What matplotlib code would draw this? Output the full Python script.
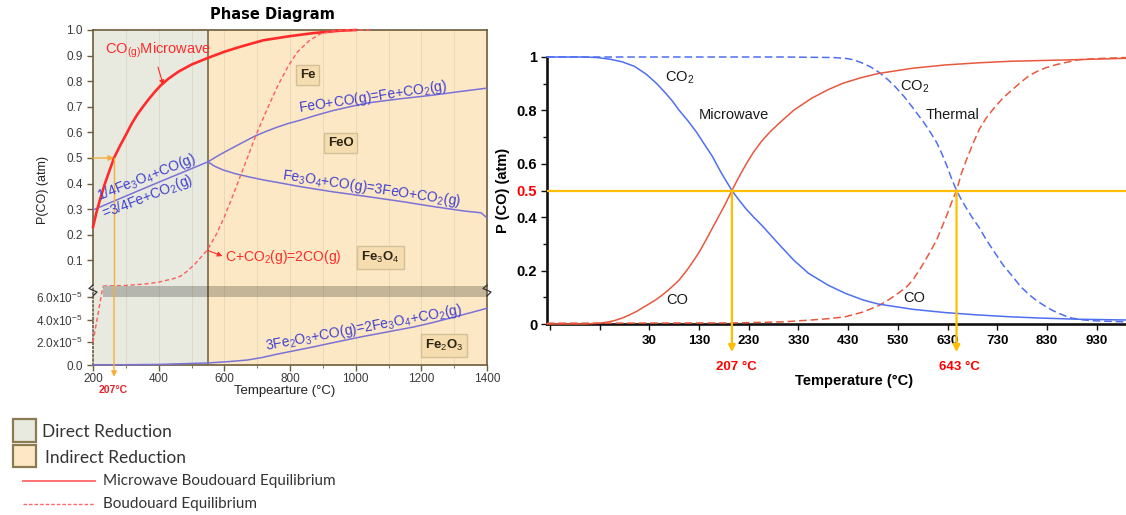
import numpy as np
import matplotlib.pyplot as plt
from matplotlib.patches import Rectangle

plt.rcParams['font.family'] = ['Liberation Sans', 'DejaVu Sans']
plt.rcParams['mathtext.fontset'] = 'custom'
plt.rcParams['mathtext.rm'] = 'Liberation Sans'
plt.rcParams['mathtext.it'] = 'Liberation Sans:italic'
plt.rcParams['mathtext.bf'] = 'Liberation Sans:bold'

# ── Data: left phase diagram (T in °C, P(CO) in atm) ──────────────────
temp_mw = [200, 210, 221, 235, 250, 264, 282, 300, 317, 334, 352, 370, 388, 405, 430, 460,
           500, 548, 600, 650, 719, 800, 872, 950, 1000]
p_mw = [0.23, 0.285, 0.336, 0.395, 0.45, 0.50, 0.547, 0.59, 0.632, 0.668, 0.70, 0.73, 0.758,
        0.782, 0.81, 0.837, 0.865, 0.89, 0.915, 0.935, 0.96, 0.976, 0.988, 0.997, 1.0]

temp_bd_low = [200, 230]
p_bd_low = [2.0e-5, 6.9e-5]
temp_bd = [230, 300, 360, 400, 426, 446, 466, 487, 510, 527, 548, 575, 600, 625, 643, 670,
           695, 730, 762, 795, 823, 860, 893, 930, 975, 1050]
p_bd = [0.0, 0.002, 0.008, 0.015, 0.023, 0.029, 0.038, 0.058, 0.085, 0.11, 0.14, 0.2, 0.27,
        0.35, 0.41, 0.50, 0.585, 0.69, 0.78, 0.86, 0.915, 0.96, 0.985, 0.996, 1.0, 1.0]

temp_fe3o4_fe = [200, 375, 550]
p_fe3o4_fe = [0.297, 0.392, 0.485]
temp_feo_fe = [550, 585, 618, 655, 689, 725, 760, 795, 832, 880, 930, 985, 1037, 1090, 1140,
               1190, 1238, 1320, 1400]
p_feo_fe = [0.485, 0.512, 0.535, 0.56, 0.583, 0.603, 0.62, 0.635, 0.648, 0.667, 0.685, 0.701,
            0.715, 0.724, 0.732, 0.739, 0.746, 0.76, 0.773]
temp_fe3o4_feo = [550, 570, 597, 635, 679, 720, 760, 832, 930, 1037, 1140, 1238, 1330, 1382, 1400]
p_fe3o4_feo = [0.485, 0.468, 0.453, 0.438, 0.425, 0.414, 0.405, 0.388, 0.368, 0.349, 0.33,
               0.31, 0.293, 0.286, 0.266]
temp_fe2o3 = [200, 400, 550, 610, 670, 715, 760, 815, 872, 920, 970, 1020, 1076, 1125, 1177,
              1235, 1290, 1345, 1400]
p_fe2o3 = [0.0, 0.05e-5, 0.18e-5, 0.29e-5, 0.44e-5, 0.66e-5, 0.95e-5, 1.27e-5, 1.6e-5, 1.9e-5,
           2.2e-5, 2.5e-5, 2.8e-5, 3.07e-5, 3.35e-5, 3.74e-5, 4.15e-5, 4.57e-5, 5.0e-5]

direct_span = [200, 550]
indirect_span = [550, 1400]
band_span = [230, 1400]
band_p = [6.0e-5, 6.96e-5]
left_half_temp = 264
left_yticks_up = [0.1, 0.2, 0.3, 0.4, 0.5, 0.6, 0.7, 0.8, 0.9, 1.0]
left_yticks_lo = [0, 2e-5, 4e-5, 6e-5]
left_yticklabels_lo = ['0.0', r'2.0x10$^{-5}$', r'4.0x10$^{-5}$', r'6.0x10$^{-5}$']

# ── Data: right panel (microwave vs thermal) ─────────────────────────
temp_mw_co2 = [-176, -100, -76, -50, -25, 0, 24, 45, 60, 75, 90, 108, 125, 140, 156, 175, 196,
               210, 225, 240, 256, 273, 290, 320, 350, 390, 424, 460, 490, 560, 624, 690, 756,
               820, 890, 989]
mw_co2 = [1.0, 1.0, 0.998, 0.992, 0.982, 0.965, 0.935, 0.9, 0.87, 0.838, 0.80, 0.76, 0.718,
          0.675, 0.63, 0.565, 0.50, 0.465, 0.43, 0.40, 0.37, 0.335, 0.30, 0.24, 0.19, 0.145,
          0.115, 0.09, 0.075, 0.055, 0.043, 0.034, 0.027, 0.022, 0.018, 0.015]
temp_mw_co = [-176, -100, -70, -55, -40, -25, -10, 5, 20, 32, 44, 57, 70, 80, 90, 105, 120,
              132, 144, 157, 170, 183, 196, 210, 225, 240, 256, 273, 290, 320, 356, 390, 420,
              455, 490, 560, 624, 690, 756, 890, 989]
mw_co = [0.0, 0.0, 0.003, 0.007, 0.013, 0.022, 0.034, 0.048, 0.065, 0.078, 0.092, 0.11, 0.13,
         0.147, 0.165, 0.2, 0.24, 0.275, 0.315, 0.36, 0.405, 0.45, 0.5, 0.55, 0.60, 0.645,
         0.685, 0.72, 0.75, 0.80, 0.845, 0.878, 0.902, 0.922, 0.938, 0.958, 0.97, 0.978,
         0.984, 0.99, 0.995]
temp_th_co2 = [-176, 300, 400, 424, 440, 455, 475, 494, 510, 524, 542, 560, 572, 584, 596, 608,
               618, 629, 638, 648, 658, 669, 681, 694, 708, 724, 742, 760, 777, 794, 811, 828,
               841, 854, 867, 880, 900, 924, 955, 989]
th_co2 = [1.0, 1.0, 0.998, 0.995, 0.99, 0.98, 0.963, 0.94, 0.915, 0.89, 0.853, 0.81, 0.78,
          0.75, 0.716, 0.68, 0.64, 0.59, 0.545, 0.50, 0.465, 0.43, 0.395, 0.36, 0.315, 0.27,
          0.22, 0.18, 0.14, 0.11, 0.085, 0.065, 0.051, 0.04, 0.03, 0.022, 0.016, 0.012, 0.01,
          0.008]
temp_th_co = [-176, 200, 300, 356, 390, 424, 460, 494, 515, 534, 548, 560, 572, 584, 596, 608,
              618, 629, 638, 648, 658, 669, 681, 694, 708, 724, 742, 760, 777, 794, 811, 828,
              846, 864, 894, 944, 989]
th_co = [0.003, 0.004, 0.008, 0.015, 0.02, 0.027, 0.045, 0.071, 0.095, 0.12, 0.14, 0.165,
         0.198, 0.235, 0.274, 0.315, 0.36, 0.41, 0.455, 0.5, 0.565, 0.62, 0.675, 0.73, 0.772,
         0.81, 0.848, 0.877, 0.905, 0.93, 0.947, 0.96, 0.97, 0.978, 0.99, 0.995, 0.998]
mw_half_temp = 196
th_half_temp = 648
half_p = 0.5
right_xticks = list(range(-170, 931, 100))
right_yticks = [0, 0.2, 0.4, 0.5, 0.6, 0.8, 1.0]
right_yticklabels = ['0', '0.2', '0.4', '0.5', '0.6', '0.8', '1']

# ── Colours ───────────────────────────────────────────────────────────
C_DIRECT = '#e8eadf'
C_INDIRECT = '#fce8c4'
C_FRAME = '#6e5c3a'
C_RED = '#ff2b2b'
C_RED_D = '#ff5c5c'
C_PURPLE = '#7a72d8'
C_BLUE_TXT = '#4040d0'
C_ORANGE_L = '#f6ad3c'
C_ORANGE = '#ffbf00'
C_BLUE_R = '#4f6ff0'
C_RED_R = '#e8583f'

W, H = 1126, 515
fig = plt.figure(figsize=(W / 100, H / 100), dpi=100)


def px_axes(l, t, r, b, **kw):
    return fig.add_axes([l / W, 1 - b / H, (r - l) / W, (b - t) / H], **kw)


ax_up = px_axes(93, 30, 487, 286)
ax_lo = px_axes(93, 286, 487, 365)
ax_r = px_axes(547, 57, 1126, 324)

# ── Left panel: backgrounds, grid, band ───────────────────────────────
for ax in (ax_up, ax_lo):
    ax.set_xlim(200, 1400)
    ax.axvspan(*direct_span, color=C_DIRECT, zorder=0, lw=0)
    ax.axvspan(*indirect_span, color=C_INDIRECT, zorder=0, lw=0)
    for t in range(300, 1400, 100):
        ax.axvline(t, color='#d6ccb2', lw=0.6, alpha=0.6, zorder=1)
    ax.axvline(direct_span[1], color=C_FRAME, lw=1.1, zorder=2)
    for s in ax.spines.values():
        s.set_color(C_FRAME)
        s.set_linewidth(1.2)
    ax.tick_params(colors=C_FRAME, labelcolor='#3a3a3a', labelsize=8.5, length=4, width=1)

ax_up.set_ylim(0, 1.0)
ax_up.spines['bottom'].set_visible(False)
ax_up.set_xticks([])
ax_up.set_yticks(left_yticks_up)
ax_up.set_yticklabels([f'{v:.1f}' for v in left_yticks_up])

ax_lo.set_ylim(0, band_p[1])
ax_lo.spines['top'].set_visible(False)
ax_lo.spines['left'].set_linestyle((0, (1, 1.5)))
ax_lo.set_yticks(left_yticks_lo)
ax_lo.set_yticklabels(left_yticklabels_lo)
ax_lo.set_xticks(range(200, 1401, 200))
ax_lo.set_xticks(range(300, 1400, 200), minor=True)
ax_lo.tick_params(axis='x', which='major', pad=1.5)
ax_lo.tick_params(axis='x', which='minor', length=2.5, colors=C_FRAME)
ax_lo.fill_between(band_span, band_p[0], band_p[1], color='k', alpha=0.22, lw=0, zorder=2)

# ── Left panel: curves ────────────────────────────────────────────────
ax_up.plot(temp_mw, p_mw, color=C_RED, lw=1.9, zorder=4, clip_on=False)
ax_up.plot(temp_bd, p_bd, color=C_RED_D, lw=1.0, ls=(0, (3, 2)), zorder=4, clip_on=False)
ax_lo.plot(temp_bd_low, p_bd_low, color=C_RED_D, lw=1.0, ls=(0, (3, 2)), zorder=4, clip_on=False)
for tt, pp in [(temp_fe3o4_fe, p_fe3o4_fe), (temp_feo_fe, p_feo_fe), (temp_fe3o4_feo, p_fe3o4_feo)]:
    ax_up.plot(tt, pp, color=C_PURPLE, lw=1.1, zorder=3)
ax_lo.plot(temp_fe2o3, p_fe2o3, color=C_PURPLE, lw=1.1, zorder=3, clip_on=False)

# orange guide at P(CO)=0.5 for the microwave curve
ax_up.annotate('', xy=(left_half_temp, 0.5), xytext=(200, 0.5),
               arrowprops=dict(arrowstyle='-|>', color=C_ORANGE_L, lw=1.0,
                               mutation_scale=8, shrinkA=0, shrinkB=0))
ax_up.plot([left_half_temp, left_half_temp], [0.5, 0], color=C_ORANGE_L, lw=1.0,
           zorder=5, clip_on=False)
ax_lo.annotate('', xy=(left_half_temp, -0.15), xytext=(left_half_temp, 1.0),
               xycoords=('data', 'axes fraction'), textcoords=('data', 'axes fraction'),
               arrowprops=dict(arrowstyle='-|>', color=C_ORANGE_L, lw=1.0,
                               mutation_scale=8, shrinkA=0, shrinkB=0),
               annotation_clip=False, zorder=5)
ax_lo.text(261, -0.32, '207°C', transform=ax_lo.get_xaxis_transform(), ha='center',
           va='center', color='#e8202a', fontsize=7.5, fontweight='bold')

# ── Left panel: annotations ───────────────────────────────────────────
ax_up.text(237, 0.922, r'CO$_{\mathrm{(g)}}$Microwave', color=C_RED, fontsize=10.5,
           ha='left', va='center')
ax_up.annotate('', xy=(414, 0.785), xytext=(398, 0.855),
               arrowprops=dict(arrowstyle='-|>', color=C_RED, lw=0.8,
                               mutation_scale=7, shrinkA=0, shrinkB=0))

eq_kw = dict(color=C_BLUE_TXT, fontsize=10, ha='center', va='center',
             rotation_mode='anchor', zorder=6)
ax_up.text(362, 0.424, r'1/4Fe$_3$O$_4$+CO(g)', rotation=21.5, **eq_kw)
ax_up.text(365, 0.348, r'=3/4Fe+CO$_2$(g)', rotation=21.5, **eq_kw)
ax_up.text(1052, 0.738, r'FeO+CO(g)=Fe+CO$_2$(g)', rotation=8.5, **eq_kw)
ax_up.text(1049, 0.383, r'Fe$_3$O$_4$+CO(g)=3FeO+CO$_2$(g)', rotation=-8.5, **eq_kw)
ax_lo.text(1024, 3.26e-5, r'3Fe$_2$O$_3$+CO(g)=2Fe$_3$O$_4$+CO$_2$(g)', rotation=10.5, **eq_kw)

ax_up.text(603, 0.113, r'C+CO$_2$(g)=2CO(g)', color=C_RED, fontsize=10,
           ha='left', va='center')
ax_up.annotate('', xy=(594, 0.117), xytext=(548, 0.14),
               arrowprops=dict(arrowstyle='-|>', color=C_RED, lw=0.8,
                               mutation_scale=7, shrinkA=0, shrinkB=0))

box_kw = dict(fontsize=9.5, fontweight='bold', color='#2b2415', ha='center', va='center',
              bbox=dict(boxstyle='square,pad=0.3', fc='#f6ddb0', ec='#d2c096', lw=1))
ax_up.text(853, 0.824, 'Fe', **box_kw)
ax_up.text(954, 0.557, 'FeO', **box_kw)
ax_up.text(1076, 0.113, r'Fe$_3$O$_4$', **box_kw)
ax_lo.text(1269, 1.76e-5, r'Fe$_2$O$_3$', **box_kw)

# ── Right panel ───────────────────────────────────────────────────────
ax_r.set_xlim(-176, 989)
ax_r.set_ylim(0, 1)
for side in ('top', 'right'):
    ax_r.spines[side].set_visible(False)
for side in ('left', 'bottom'):
    ax_r.spines[side].set_linewidth(1.9)
    ax_r.spines[side].set_color('#111111')

ax_r.plot(temp_mw_co2, mw_co2, color=C_BLUE_R, lw=1.1, clip_on=False, zorder=4)
ax_r.plot(temp_mw_co, mw_co, color=C_RED_R, lw=1.1, clip_on=False, zorder=4)
ax_r.plot(temp_th_co2, th_co2, color=C_BLUE_R, lw=1.1, ls=(0, (5, 2.5)), clip_on=False, zorder=3)
ax_r.plot(temp_th_co, th_co, color=C_RED_R, lw=1.1, ls=(0, (5, 2.5)), clip_on=False, zorder=3)

ax_r.axhline(half_p, color=C_ORANGE, lw=1.6, zorder=5)
for t in (mw_half_temp, th_half_temp):
    ax_r.annotate('', xy=(t, -0.105), xytext=(t, half_p),
                  arrowprops=dict(arrowstyle='-|>', color=C_ORANGE, lw=1.6,
                                  mutation_scale=10, shrinkA=0, shrinkB=0),
                  annotation_clip=False, zorder=6)
ax_r.text(206, -0.161, '207 °C', color='red', fontsize=9.5, fontweight='bold',
          ha='center', va='center', clip_on=False)
ax_r.text(654, -0.161, '643 °C', color='red', fontsize=9.5, fontweight='bold',
          ha='center', va='center', clip_on=False)

ax_r.set_yticks(right_yticks)
ax_r.set_yticklabels(right_yticklabels, fontweight='bold', fontsize=10.5)
ax_r.get_yticklabels()[3].set_color('red')
ax_r.set_yticks([0.1, 0.3, 0.7, 0.9], minor=True)
ax_r.set_xticks(right_xticks)
ax_r.set_xticklabels([str(t) if t >= 30 else '' for t in right_xticks],
                     fontweight='bold', fontsize=9.5)
ax_r.tick_params(axis='both', which='both', direction='out', color='#111111', width=1)
ax_r.tick_params(axis='y', which='major', length=4, pad=3)
ax_r.tick_params(axis='y', which='minor', length=3)
ax_r.tick_params(axis='x', length=4, pad=4)

lab_kw = dict(fontsize=10.5, color='#1a1a1a', ha='center', va='center')
ax_r.text(90, 0.922, r'CO$_2$', **lab_kw)
ax_r.text(200, 0.784, 'Microwave', **lab_kw)
ax_r.text(564, 0.889, r'CO$_2$', **lab_kw)
ax_r.text(640, 0.784, 'Thermal', **lab_kw)
ax_r.text(86, 0.09, 'CO', **lab_kw)
ax_r.text(562, 0.0975, 'CO', **lab_kw)

# ── Overlay in pixel units: titles, axis labels, break marks, legend ─
ov = fig.add_axes([0, 0, 1, 1], zorder=10)
ov.set_xlim(0, W)
ov.set_ylim(H, 0)
ov.axis('off')
ov.patch.set_visible(False)

ov.text(272, 14, 'Phase Diagram', fontsize=10.5, fontweight='bold',
        family='DejaVu Sans', ha='center', va='center')
ov.text(43, 190, 'P(CO) (atm)', fontsize=9, rotation=90, ha='center', va='center',
        color='#222222')
ov.text(285, 391, 'Tempearture (°C)', fontsize=9.5, ha='center', va='center',
        color='#222222')
ov.text(503, 190, 'P (CO) (atm)', fontsize=10.5, fontweight='bold', rotation=90,
        ha='center', va='center')
ov.text(854, 381, 'Temperature (°C)', fontsize=10.5, fontweight='bold',
        ha='center', va='center')

# axis-break zigzags
for x0 in (93, 487):
    ov.plot([x0, x0 - 4, x0 + 4, x0], [285, 288.5, 292, 296], color='#333333', lw=0.9)

# legend
ov.add_patch(Rectangle((13, 419), 23, 23, fc=C_DIRECT, ec='#8c7a50', lw=1.6))
ov.add_patch(Rectangle((13, 445), 23, 22, fc=C_INDIRECT, ec='#8c7a50', lw=1.6))
leg_kw = dict(family=['Lato', 'DejaVu Sans'], color='#333333', va='center', ha='left')
ov.text(42, 432, 'Direct Reduction', fontsize=12.5, **leg_kw)
ov.text(45, 458, 'Indirect Reduction', fontsize=12.5, **leg_kw)
ov.plot([23, 95], [481, 481], color='#ff6666', lw=1.3)
ov.plot([23, 93], [504, 504], color='#ff6666', lw=1.0, ls=(0, (2.5, 1.5)))
ov.text(103, 481, 'Microwave Boudouard Equilibrium', fontsize=11, **leg_kw)
ov.text(103, 504, 'Boudouard Equilibrium', fontsize=11, **leg_kw)

fig.savefig('out.png', dpi=100)
